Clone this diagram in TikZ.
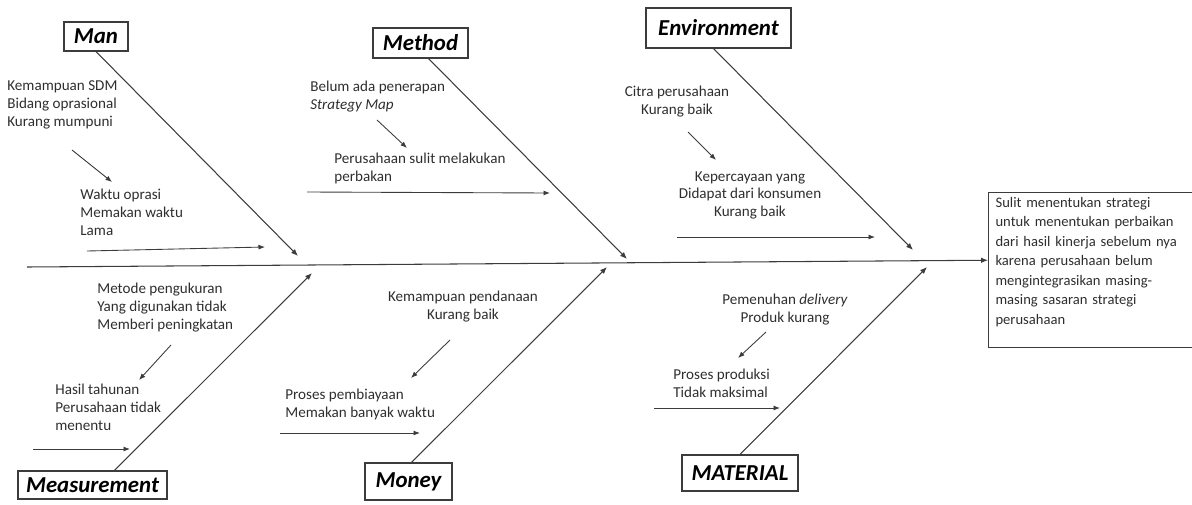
\documentclass[tikz,border=0pt]{standalone}
\usepackage{fontspec}
\setmainfont{Carlito}
\usetikzlibrary{arrows.meta,calc,positioning}
\definecolor{InkGray}{HTML}{2E2E2E}
\definecolor{LineGray}{HTML}{3C3C3C}
\begin{document}
\begin{tikzpicture}[x=0.02cm,y=-0.02cm,
      cat/.style={draw=LineGray,line width=0.6pt,fill=white,inner sep=0pt,font=\fontsize{13}{15}\selectfont\bfseries\itshape,text=black},
      cause/.style={inner sep=0pt,font=\fontsize{8.6}{10.2}\selectfont,text=InkGray},
      effect/.style={draw=LineGray,line width=0.6pt,align=left,text width=3.86cm,inner xsep=4pt,inner ysep=2.5pt,text depth=77.5pt,font=\fontsize{8.3}{11.1}\selectfont,text=InkGray},
      bone/.style={-{Latex[length=1.4mm,width=1.1mm]},line width=0.6pt,draw=LineGray},
      sub/.style={-{Latex[length=1.3mm,width=1mm]},line width=0.5pt,draw=LineGray}
    ]
      \useasboundingbox (0,0) rectangle (1192,504);
      \node[effect,anchor=north west] (effect) at (988,192) {Sulit menentukan strategi\\untuk menentukan perbaikan\\dari hasil kinerja sebelum nya\\karena perusahaan belum\\mengintegrasikan masing-\\masing sasaran strategi\\perusahaan};
      \coordinate (tail) at (27,267);
      \draw[bone] (tail) -- ($(effect.north west)!0.437!(effect.south west)$);

      \node[cat,minimum width=64*0.02cm,minimum height=29*0.02cm] (man) at (96,36.5) {Man};
      \node[cat,minimum width=95*0.02cm,minimum height=30*0.02cm] (method) at (420.5,43) {Method};
      \node[cat,minimum width=145*0.02cm,minimum height=40*0.02cm] (environment) at (718.5,28) {Environment};
      \node[cat,minimum width=149*0.02cm,minimum height=28*0.02cm] (measurement) at (92.5,485) {Measurement};
      \node[cat,minimum width=87*0.02cm,minimum height=37*0.02cm] (money) at (408.5,481.5) {Money};
      \node[cat,minimum width=116*0.02cm,minimum height=36*0.02cm] (material) at (740,473) {MATERIAL};

      \coordinate (manend) at (298,256);
      \coordinate (methodend) at (627,259);
      \coordinate (envend) at (913,250);
      \coordinate (measend) at (312,273);
      \coordinate (moneyend) at (607,267);
      \coordinate (matend) at (927,267);
      \draw[bone] (man.south) -- (manend);
      \draw[bone] ($(method.south)+(8,0)$) -- (methodend);
      \draw[bone] ($(environment.south)+(-5,0)$) -- (envend);
      \draw[bone] ($(measurement.north)+(22,0)$) -- (measend);
      \draw[bone] ($(money.north)+(3,0)$) -- (moneyend);
      \draw[bone] (material.north) -- (matend);

      \node[cause,align=left,anchor=north west] (sdm) at (7,80) {Kemampuan SDM\\Bidang oprasional\\Kurang mumpuni};
      \node[cause,align=left,anchor=north west] (waktu) at (80,189) {Waktu oprasi\\Memakan waktu\\Lama};
      \node[cause,align=left,anchor=north west] (stratmap) at (310,81) {Belum ada penerapan\\\textit{Strategy Map}};
      \node[cause,align=left,anchor=north west] (perbakan) at (334,153) {Perusahaan sulit melakukan\\perbakan};
      \node[cause,align=center,anchor=north] (citra) at (677,86) {Citra perusahaan\\Kurang baik};
      \node[cause,align=center,anchor=north] (percaya) at (750,171) {Kepercayaan yang\\Didapat dari konsumen\\Kurang baik};
      \node[cause,align=left,anchor=north west] (metode) at (97,283) {Metode pengukuran\\Yang digunakan tidak\\Memberi peningkatan};
      \node[cause,align=left,anchor=north west] (hasil) at (55,384) {Hasil tahunan\\Perusahaan tidak\\menentu};
      \node[cause,align=center,anchor=north] (dana) at (463,291) {Kemampuan pendanaan\\Kurang baik};
      \node[cause,align=left,anchor=north west] (biaya) at (285,389) {Proses pembiayaan\\Memakan banyak waktu};
      \node[cause,align=center,anchor=north] (delivery) at (785,294) {Pemenuhan \textit{delivery}\\Produk kurang};
      \node[cause,align=left,anchor=north west] (produksi) at (673,369) {Proses produksi\\Tidak maksimal};

      \coordinate (sdm1) at (72,150);   \coordinate (sdm2) at (112,182);
      \coordinate (map1) at (377,120);  \coordinate (map2) at (407,148);
      \coordinate (cit1) at (688,132);  \coordinate (cit2) at (716,160);
      \coordinate (met1) at (171,345);  \coordinate (met2) at (139,380);
      \coordinate (dan1) at (450,340);  \coordinate (dan2) at (411,378);
      \coordinate (del1) at (766,332);  \coordinate (del2) at (738,358);
      \draw[sub] (sdm1) -- (sdm2);
      \draw[sub] (map1) -- (map2);
      \draw[sub] (cit1) -- (cit2);
      \draw[sub] (met1) -- (met2);
      \draw[sub] (dan1) -- (dan2);
      \draw[sub] (del1) -- (del2);

      \coordinate (wak1) at (87,251);   \coordinate (wak2) at (265,247);
      \coordinate (per1) at (307,192);  \coordinate (per2) at (550,193);
      \coordinate (kep1) at (677,237);  \coordinate (kep2) at (875,237);
      \coordinate (has1) at (33,449);   \coordinate (has2) at (130,449);
      \coordinate (bia1) at (280,433);  \coordinate (bia2) at (420,433);
      \coordinate (pro1) at (654,408);  \coordinate (pro2) at (780,408);
      \draw[sub] (wak1) -- (wak2);
      \draw[sub] (per1) -- (per2);
      \draw[sub] (kep1) -- (kep2);
      \draw[sub] (has1) -- (has2);
      \draw[sub] (bia1) -- (bia2);
      \draw[sub] (pro1) -- (pro2);
    \end{tikzpicture}
\end{document}
